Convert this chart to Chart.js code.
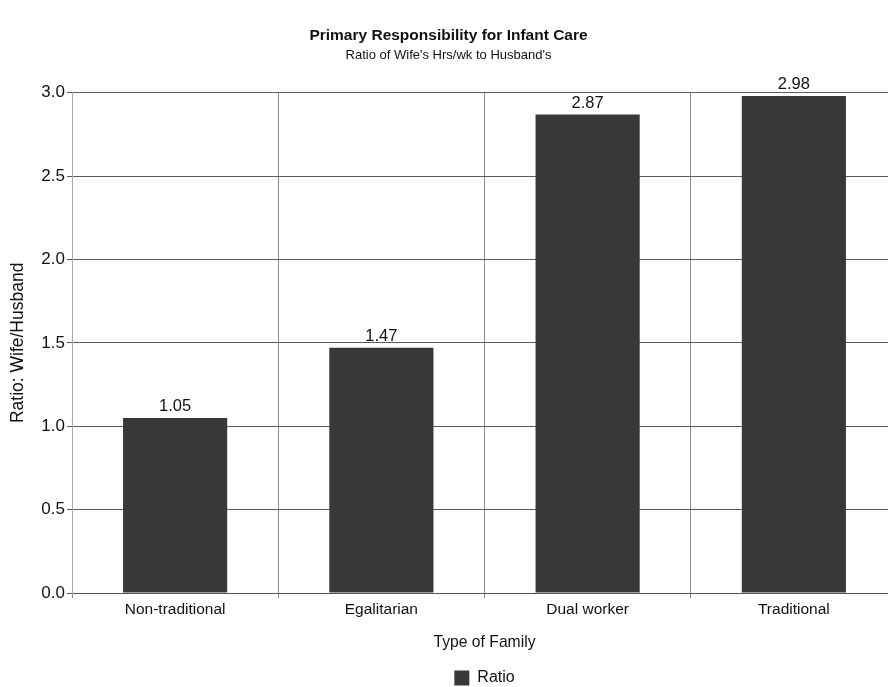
<!DOCTYPE html>
<html>
<head>
<meta charset="utf-8">
<title>Primary Responsibility for Infant Care</title>
<script src="https://cdn.jsdelivr.net/npm/chart.js@4/dist/chart.umd.min.js"></script>
<style>
  html, body { margin: 0; padding: 0; background: #fff; overflow: hidden; }
  #wrap { width: 900px; height: 696px; position: relative; }
</style>
</head>
<body>
<div id="wrap"><canvas id="chart"></canvas></div>
<script>
// Family types on the x axis
const categories = ['Non-traditional', 'Egalitarian', 'Dual worker', 'Traditional'];
// Ratio of wife's weekly infant-care hours to husband's
const ratioValues = [1.05, 1.47, 2.87, 2.98];
// Y axis tick values
const yTicks = [0.0, 0.5, 1.0, 1.5, 2.0, 2.5, 3.0];

const FONT = "'Liberation Sans', Arial, sans-serif";

// Writes each bar's value just above its top edge
const valueLabels = {
  id: 'valueLabels',
  afterDatasetsDraw(chart) {
    const ctx = chart.ctx;
    ctx.save();
    ctx.font = '16.5px ' + FONT;
    ctx.fillStyle = '#111';
    ctx.textAlign = 'center';
    ctx.textBaseline = 'bottom';
    chart.getDatasetMeta(0).data.forEach((bar, i) => {
      ctx.fillText(ratioValues[i].toFixed(2), bar.x, bar.y - 3);
    });
    ctx.restore();
  }
};

new Chart(document.getElementById('chart'), {
  type: 'bar',
  data: {
    labels: categories,
    datasets: [{
      label: 'Ratio',
      data: ratioValues,
      backgroundColor: '#383838',
      borderWidth: 0,
      barPercentage: 0.505,
      categoryPercentage: 1.0
    }]
  },
  options: {
    responsive: true,
    maintainAspectRatio: false,
    animation: false,
    layout: { padding: { left: 0, right: 3, top: 0, bottom: 0 } },
    plugins: {
      title: {
        display: true,
        text: 'Primary Responsibility for Infant Care',
        color: '#111',
        font: { family: FONT, size: 15.5, weight: 'bold' },
        padding: { top: 26, bottom: 0 }
      },
      subtitle: {
        display: true,
        text: "Ratio of Wife's Hrs/wk to Husband's",
        color: '#111',
        font: { family: FONT, size: 13 },
        padding: { top: 3, bottom: 29.5 }
      },
      legend: {
        display: true,
        position: 'bottom',
        fullSize: false,
        labels: {
          color: '#111',
          font: { family: FONT, size: 16 },
          boxWidth: 15,
          boxHeight: 15,
          padding: 3
        }
      },
      tooltip: { enabled: false }
    },
    scales: {
      x: {
        offset: true,
        grid: {
          offset: true,
          color: '#8c8c8c',
          lineWidth: 1,
          tickLength: 5
        },
        border: { display: true, color: '#555' },
        ticks: {
          color: '#111',
          font: { family: FONT, size: 15.5 },
          padding: 2.7,
          maxRotation: 0
        },
        title: {
          display: true,
          text: 'Type of Family',
          color: '#111',
          font: { family: FONT, size: 15.7 },
          padding: { top: 0, bottom: 14.6 }
        },
        afterFit(scale) { scale.height = 74; }
      },
      y: {
        min: 0,
        max: 3,
        afterBuildTicks(scale) { scale.ticks = yTicks.map(v => ({ value: v })); },
        grid: {
          color: '#5c5c5c',
          lineWidth: 1,
          tickLength: 5
        },
        border: { display: true, color: '#aaa' },
        ticks: {
          color: '#111',
          font: { family: FONT, size: 17 },
          padding: 2,
          callback: v => Number(v).toFixed(1)
        },
        title: {
          display: true,
          text: 'Ratio: Wife/Husband',
          color: '#111',
          font: { family: FONT, size: 17.5 },
          padding: { top: 8, bottom: 0 }
        },
        afterFit(scale) { scale.width = 72; }
      }
    }
  },
  plugins: [valueLabels]
});
</script>
</body>
</html>
